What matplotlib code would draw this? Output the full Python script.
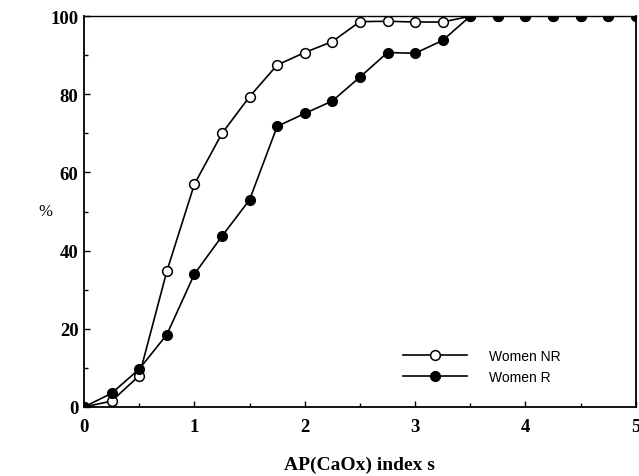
import matplotlib
matplotlib.use("Agg")
import matplotlib.pyplot as plt
from matplotlib.ticker import MultipleLocator

x_vals = [0, 0.25, 0.5, 0.75, 1.0, 1.25, 1.5, 1.75, 2.0, 2.25, 2.5, 2.75, 3.0, 3.25,
          3.5, 3.75, 4.0, 4.25, 4.5, 4.75, 5.0]
women_nr = [0, 1.5, 8, 34.7, 57, 70, 79.4, 87.5, 90.7, 93.5, 98.6, 98.7, 98.5, 98.5,
            100, 100, 100, 100, 100, 100, 100]
women_r = [0, 3.5, 9.7, 18.5, 34, 43.7, 53, 71.8, 75.1, 78.3, 84.4, 90.7, 90.5, 93.8,
           100, 100, 100, 100, 100, 100, 100]

serif = ["Liberation Serif", "DejaVu Serif"]
sans = ["Liberation Sans", "DejaVu Sans"]

fig = plt.figure(figsize=(6.39, 4.77), dpi=100)
ax = fig.add_axes([0.1315, 0.1447, 0.8635, 0.8193])

ax.plot(x_vals, women_nr, color="black", lw=1.2, marker="o", ms=7,
        mfc="white", mec="black", mew=1.1, label="Women NR")
ax.plot(x_vals, women_r, color="black", lw=1.2, marker="o", ms=7,
        mfc="black", mec="black", label="Women R")

ax.set_xlim(0, 5)
ax.set_ylim(0, 100)
ax.xaxis.set_major_locator(MultipleLocator(1))
ax.xaxis.set_minor_locator(MultipleLocator(0.5))
ax.yaxis.set_major_locator(MultipleLocator(20))
ax.yaxis.set_minor_locator(MultipleLocator(10))
ax.tick_params(which="both", direction="in", top=False, right=False)
ax.tick_params(which="major", length=4, width=1)
ax.tick_params(which="minor", length=3, width=1)
ax.tick_params(axis="x", pad=8)
ax.tick_params(axis="y", pad=4)
for spine in ax.spines.values():
    spine.set_linewidth(1.3)
ax.spines["top"].set_linewidth(1.0)

for lab in ax.get_xticklabels() + ax.get_yticklabels():
    lab.set_fontfamily(serif)
    lab.set_fontweight("bold")
    lab.set_fontsize(13.5)

ax.set_xlabel("AP(CaOx) index s", fontfamily=serif, fontweight="bold",
              fontsize=14, labelpad=15)
fig.text(45 / 639, 1 - 212 / 477, "%", fontfamily=serif, fontsize=12,
         ha="center", va="center")

ax.legend(loc="upper left", bbox_to_anchor=(0.555, 0.18), frameon=False,
          handlelength=4.6, handletextpad=1.6, labelspacing=0.5,
          prop={"family": sans, "size": 10})

fig.savefig("out.png", dpi=100)
